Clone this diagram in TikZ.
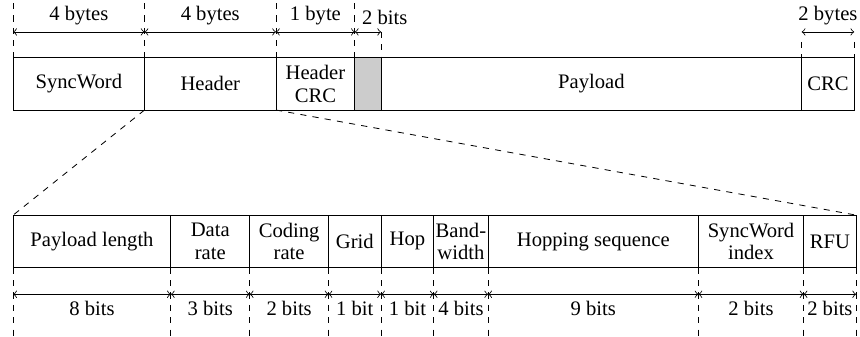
\documentclass[tikz,border=0pt]{standalone}
\usepackage{fontspec}
\setmainfont{Liberation Serif}
\usetikzlibrary{positioning}
\def\cw{12.75pt}

\begin{document}
\begin{tikzpicture}[x=\cw, y=\cw, node distance=0pt,
    font=\fontsize{10}{11}\selectfont,
    field/.style={draw, outer sep=0pt, inner xsep=1pt, minimum height=2*\cw, align=center},
    guide/.style={dashed},
    dim/.style={<->}]
    \useasboundingbox (0,0) rectangle (32.72,12.785);
    % levels
    \coordinate (tt) at (0,12.67);
    \coordinate (ta) at (0,11.57);
    \coordinate (tc) at (0,11.19);
    \coordinate (ba) at (0,1.59);
    \coordinate (bb) at (0,0);
    % packet
    \node[field, minimum width=5*\cw] (sync) at (3,9.6) {SyncWord};
    \node[field, minimum width=5*\cw, right=of sync] (hdr) {Header};
    \node[field, minimum width=3*\cw, right=of hdr] (hcrc) {Header\\CRC};
    \node[field, minimum width=1*\cw, fill=gray!40, right=of hcrc] (pad) {};
    \node[field, minimum width=16*\cw, right=of pad] (pay) {Payload};
    \node[field, minimum width=2*\cw, right=of pay] (crc) {CRC};
    % header
    \node[field, minimum width=6*\cw] (plen) at (3.5,3.6) {Payload length};
    \node[field, minimum width=3*\cw, right=of plen] (drate) {Data\\rate};
    \node[field, minimum width=3*\cw, right=of drate] (crate) {Coding\\rate};
    \node[field, minimum width=2*\cw, right=of crate] (grid) {Grid};
    \node[field, minimum width=2*\cw, right=of grid] (hop) {Hop};
    \node[field, minimum width=2*\cw, right=of hop] (bw) {Band-\\width};
    \node[field, minimum width=8*\cw, right=of bw] (hseq) {Hopping sequence};
    \node[field, minimum width=4*\cw, right=of hseq] (swi) {SyncWord\\index};
    \node[field, minimum width=2*\cw, right=of swi] (rfu) {RFU};
    % sizes of the packet
    \foreach \n in {sync,hdr,hcrc,pad}
        \draw[guide] (\n.north west |- tt) -- (\n.north west);
    \draw[guide] (pad.north east |- ta) -- (pad.north east);
    \draw[guide] (crc.north west |- tc) -- (crc.north west);
    \draw[guide] (crc.north east |- tc) -- (crc.north east);
    \draw[dim] (sync.north west |- ta) -- (sync.north east |- ta) node[midway, above] (lsync) {4 bytes};
    \draw[dim] (hdr.north west |- ta) -- (hdr.north east |- ta) node[midway, above] (lhdr) {4 bytes};
    \draw[dim] (hcrc.north west |- ta) -- (hcrc.north east |- ta) node[midway, above] (lhcrc) {1 byte};
    \draw[dim] (pad.north west |- ta) node[above right] (lpad) {2 bits} -- (pad.north east |- ta);
    \draw[dim] (crc.north west |- ta) -- (crc.north east |- ta) node[midway, above] (lcrc) {2 bytes};
    % sizes of the header
    \foreach \n in {plen,drate,crate,grid,hop,bw,hseq,swi,rfu}
        \draw[guide] (\n.south west) -- (\n.south west |- bb);
    \draw[guide] (rfu.south east) -- (rfu.south east |- bb);
    \foreach \n/\t in {plen/8 bits, drate/3 bits, crate/2 bits, grid/1 bit, hop/1 bit,
                       bw/4 bits, hseq/9 bits, swi/2 bits, rfu/2 bits}
        \draw[dim] (\n.south west |- ba) -- (\n.south east |- ba) node[midway, below] (l\n) {\t};
    % zoom
    \draw[guide] (hdr.south west) -- (plen.north west);
    \draw[guide] (hdr.south east) -- (rfu.north east);
\end{tikzpicture}
\end{document}
